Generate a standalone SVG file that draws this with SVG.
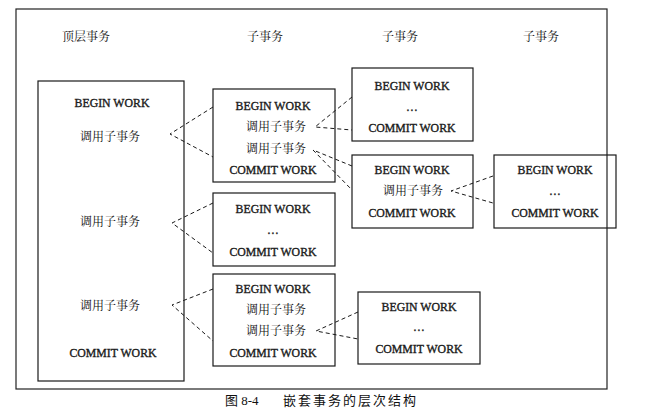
<svg xmlns="http://www.w3.org/2000/svg" width="648" height="417" viewBox="0 0 648 417">
<style>
.box{fill:none;stroke:#1a1a1a;stroke-width:1.2}
.frame{fill:none;stroke:#222;stroke-width:1.2}
.en{font-family:"Liberation Serif","Times New Roman",serif;font-size:11.8px;fill:#1a1a1a;stroke:#1a1a1a;stroke-width:0.35;text-anchor:middle}
.zh{font-family:"Noto Serif CJK SC","Noto Sans CJK SC",serif;font-size:12px;fill:#111;text-anchor:middle}
.hd{font-family:"Noto Serif CJK SC","Noto Sans CJK SC",serif;font-size:12px;fill:#111;text-anchor:middle}
.cap{font-family:"Liberation Serif","Noto Sans CJK SC",serif;font-size:13px;fill:#111}
.dash{fill:none;stroke:#1a1a1a;stroke-width:1;stroke-dasharray:4 3}
</style>
<rect width="648" height="417" fill="#fff"/>
<rect class="frame" x="16" y="9" width="591" height="380"/>
<g id="headers">
<text class="hd" x="86" y="41">顶层事务</text>
<text class="hd" x="265" y="41">子事务</text>
<text class="hd" x="400" y="41">子事务</text>
<text class="hd" x="541" y="41">子事务</text>
</g>
<g id="top">
<rect class="box" x="38" y="81" width="146" height="300"/>
<text class="en" x="112" y="107">BEGIN WORK</text>
<text class="zh" x="110" y="141">调用子事务</text>
<text class="zh" x="110" y="226">调用子事务</text>
<text class="zh" x="110" y="310">调用子事务</text>
<text class="en" x="113" y="357">COMMIT WORK</text>
</g>
<g id="sub1">
<rect class="box" x="213" y="89" width="122" height="93"/>
<text class="en" x="273" y="110">BEGIN WORK</text>
<text class="zh" x="276" y="131">调用子事务</text>
<text class="zh" x="276" y="153">调用子事务</text>
<text class="en" x="273" y="174">COMMIT WORK</text>
</g>
<g id="sub2">
<rect class="box" x="213" y="193" width="122" height="73"/>
<text class="en" x="273" y="213">BEGIN WORK</text>
<text class="en" x="273" y="234">…</text>
<text class="en" x="273" y="256">COMMIT WORK</text>
</g>
<g id="sub3">
<rect class="box" x="213" y="274" width="122" height="92"/>
<text class="en" x="273" y="293">BEGIN WORK</text>
<text class="zh" x="276" y="314">调用子事务</text>
<text class="zh" x="276" y="335">调用子事务</text>
<text class="en" x="273" y="357">COMMIT WORK</text>
</g>
<g id="sub11">
<rect class="box" x="352" y="68" width="121" height="73"/>
<text class="en" x="412" y="90">BEGIN WORK</text>
<text class="en" x="412" y="111">…</text>
<text class="en" x="412" y="132">COMMIT WORK</text>
</g>
<g id="sub12">
<rect class="box" x="352" y="155" width="121" height="73"/>
<text class="en" x="412" y="174">BEGIN WORK</text>
<text class="zh" x="413" y="195">调用子事务</text>
<text class="en" x="412" y="217">COMMIT WORK</text>
</g>
<g id="sub121">
<rect class="box" x="494" y="155" width="122" height="73"/>
<text class="en" x="555" y="174">BEGIN WORK</text>
<text class="en" x="555" y="195">…</text>
<text class="en" x="555" y="217">COMMIT WORK</text>
</g>
<g id="sub32">
<rect class="box" x="358" y="292" width="122" height="72"/>
<text class="en" x="419" y="311">BEGIN WORK</text>
<text class="en" x="419" y="331">…</text>
<text class="en" x="419" y="353">COMMIT WORK</text>
</g>
<g id="connectors">
<path class="dash" d="M213,107 L170,134 L213,157"/>
<path class="dash" d="M213,203 L172,223 L213,253"/>
<path class="dash" d="M213,289 L172,305 L213,341"/>
<path class="dash" d="M352,97 L315,127 L352,130"/>
<path class="dash" d="M352,166 L313,150 L352,190"/>
<path class="dash" d="M493,176 L451,191 L493,203"/>
<path class="dash" d="M358,312 L316,331 L358,339"/>
</g>
<text class="cap" x="225" y="405">图 8-4<tspan x="283" letter-spacing="2">嵌套事务的层次结构</tspan></text>
</svg>
